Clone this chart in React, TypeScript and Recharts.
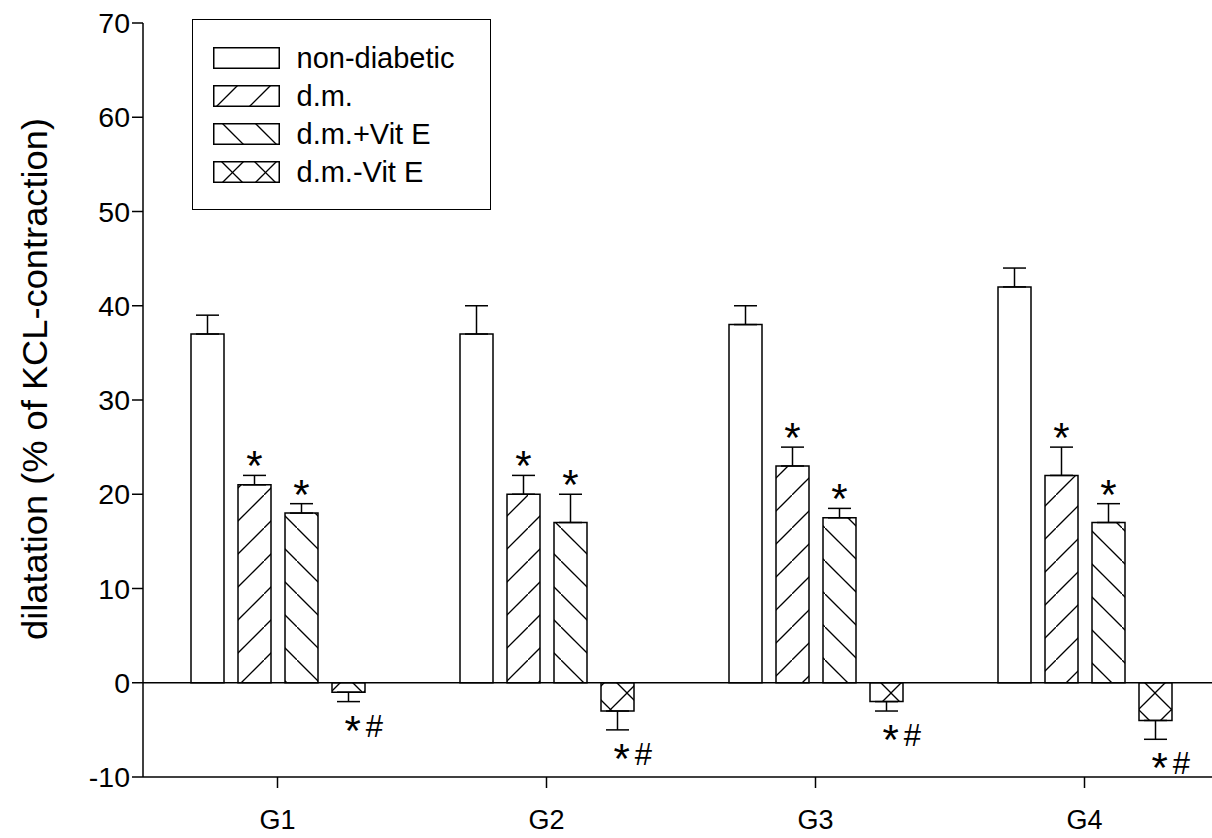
import React from 'react';
import { BarChart, Bar, XAxis, YAxis, ErrorBar, ReferenceLine, Legend, LabelList, Label } from 'recharts';

const FONT = '"Liberation Sans", Arial, Helvetica, sans-serif';

const groups = ['G1', 'G2', 'G3', 'G4'];
const seriesNames = ['non-diabetic', 'd.m.', 'd.m.+Vit E', 'd.m.-Vit E'];

// means
const nonDiabetic = [37, 37, 38, 42];
const dm = [21, 20, 23, 22];
const dmVitE = [18, 17, 17.5, 17];
const dmNoVitE = [-1, -3, -2, -4];

// SEM (drawn one-sided, away from zero)
const nonDiabeticErr = [2, 3, 2, 2];
const dmErr = [1, 2, 2, 3];
const dmVitEErr = [1, 3, 1, 2];
const dmNoVitEErr = [1, 2, 1, 2];

// significance marks
const dmMarks = ['*', '*', '*', '*'];
const dmVitEMarks = ['*', '*', '*', '*'];
const dmNoVitEMarks = ['*#', '*#', '*#', '*#'];

const yTicks = [-10, 0, 10, 20, 30, 40, 50, 60, 70];

const oneSided = (v: number, e: number) => (v >= 0 ? [0, e] : [e, 0]);

const data = groups.map((g, i) => ({
  group: g,
  nd: nonDiabetic[i],
  ndErr: oneSided(nonDiabetic[i], nonDiabeticErr[i]),
  dm: dm[i],
  dmErr: oneSided(dm[i], dmErr[i]),
  dmMark: dmMarks[i],
  dmE: dmVitE[i],
  dmEErr: oneSided(dmVitE[i], dmVitEErr[i]),
  dmEMark: dmVitEMarks[i],
  dmNoE: dmNoVitE[i],
  dmNoEErr: oneSided(dmNoVitE[i], dmNoVitEErr[i]),
  dmNoEMark: dmNoVitEMarks[i],
}));

const Patterns = ({ prefix, dx = [0, 0, 0], dy = [0, 0, 0] }: { prefix: string; dx?: number[]; dy?: number[] }) => (
  <defs>
    <pattern id={`${prefix}-fwd`} patternUnits="userSpaceOnUse" x={dx[0]} y={dy[0]} width={33} height={33}>
      <rect width={33} height={33} fill="#fff" />
      <line x1={-1} y1={34} x2={34} y2={-1} stroke="#000" strokeWidth={1.3} />
    </pattern>
    <pattern id={`${prefix}-back`} patternUnits="userSpaceOnUse" x={dx[1]} y={dy[1]} width={33} height={33}>
      <rect width={33} height={33} fill="#fff" />
      <line x1={-1} y1={-1} x2={34} y2={34} stroke="#000" strokeWidth={1.3} />
    </pattern>
    <pattern id={`${prefix}-cross`} patternUnits="userSpaceOnUse" x={dx[2]} y={dy[2]} width={33} height={33}>
      <rect width={33} height={33} fill="#fff" />
      <line x1={-1} y1={34} x2={34} y2={-1} stroke="#000" strokeWidth={1.3} />
      <line x1={-1} y1={-1} x2={34} y2={34} stroke="#000" strokeWidth={1.3} />
    </pattern>
  </defs>
);

const swatchFill = (prefix: string) => ['#fff', `url(#${prefix}-fwd)`, `url(#${prefix}-back)`, `url(#${prefix}-cross)`];

const LegendBox = () => (
  <div
    style={{
      boxSizing: 'border-box',
      width: 299,
      height: 191,
      border: '1.5px solid #000',
      background: '#fff',
      paddingTop: 26.5,
      paddingLeft: 19.5,
      fontFamily: FONT,
      fontSize: 29,
      color: '#000',
    }}
  >
    {seriesNames.map((name, i) => (
      <div key={name} style={{ display: 'flex', alignItems: 'center', height: 22, marginBottom: 16.3 }}>
        <svg width={67} height={22} style={{ display: 'block', flex: 'none' }}>
          <Patterns prefix={`lg${i}`} dx={[-8, 9, 3]} dy={[0, 0, -5]} />
          <rect x={0.75} y={0.75} width={65.5} height={20.5} fill={swatchFill(`lg${i}`)[i]} stroke="#000" strokeWidth={1.5} />
        </svg>
        <span style={{ marginLeft: 17, lineHeight: '22px', whiteSpace: 'nowrap' }}>{name}</span>
      </div>
    ))}
  </div>
);

// star(s) placed just beyond the end of the error bar
const markRenderer = (values: number[], errs: number[]) => (props: any) => {
  const vb = props.viewBox ?? props;
  const { x, y, width, height } = vb;
  const i = props.index;
  const v = values[i];
  const unit = Math.abs(height) / Math.abs(v);
  const cx = x + width / 2;
  const chars = String(props.value).split('');
  if (v >= 0) {
    const top = Math.min(y, y + height);
    const errEnd = top - errs[i] * unit;
    return (
      <text x={cx} y={errEnd + 5} textAnchor="middle" fontSize={42} fontFamily={FONT} fill="#000">
        {props.value}
      </text>
    );
  }
  const bottom = Math.max(y, y + height);
  const errEnd = bottom + errs[i] * unit;
  return (
    <text x={cx - 4} y={errEnd + 43} fontFamily={FONT} fill="#000">
      {chars.map((ch, k) =>
        ch === '*' ? (
          <tspan key={k} fontSize={42}>*</tspan>
        ) : (
          <tspan key={k} fontSize={31} dx={5} dy={-8}>{ch}</tspan>
        )
      )}
    </text>
  );
};

const axisStroke = { stroke: '#000', strokeWidth: 1.5 };
const barFills = swatchFill('bar');

export default function App() {
  return (
    <div style={{ position: 'absolute', left: 0, top: 0, width: 1212, height: 838, overflow: 'hidden', background: '#fff' }}>
      <BarChart
        width={1232}
        height={838}
        data={data}
        margin={{ top: 23, right: 13, bottom: 0, left: 0 }}
        barSize={33}
        barGap={14}
      >
        <Patterns prefix="bar" />
        <XAxis
          dataKey="group"
          height={61}
          tickSize={11}
          tickMargin={22}
          interval={0}
          axisLine={axisStroke}
          tickLine={axisStroke}
          tick={{ fill: '#000', fontSize: 27, fontFamily: FONT }}
        />
        <YAxis
          type="number"
          domain={[-10, 70]}
          ticks={yTicks}
          interval={0}
          width={143}
          tickSize={11}
          axisLine={axisStroke}
          tickLine={axisStroke}
          tick={{ fill: '#000', fontSize: 28.5, fontFamily: FONT }}
        >
          <Label
            content={() => (
              <text
                x={34}
                y={379}
                transform="rotate(-90 34 379)"
                textAnchor="middle"
                dominantBaseline="central"
                fontSize={35}
                fontFamily={FONT}
                fill="#000"
                textLength={522}
                lengthAdjust="spacingAndGlyphs"
              >
                dilatation (% of KCL-contraction)
              </text>
            )}
          />
        </YAxis>
        <ReferenceLine y={0} stroke="#000" strokeWidth={1.5} />
        <Legend
          layout="vertical"
          align="center"
          verticalAlign="middle"
          wrapperStyle={{ left: 192, top: 19, width: 299, height: 191 }}
          content={() => <LegendBox />}
        />
        <Bar dataKey="nd" name={seriesNames[0]} fill={barFills[0]} stroke="#000" strokeWidth={1.5} isAnimationActive={false}>
          <ErrorBar dataKey="ndErr" width={11.5} stroke="#000" strokeWidth={1.5} />
        </Bar>
        <Bar dataKey="dm" name={seriesNames[1]} fill={barFills[1]} stroke="#000" strokeWidth={1.5} isAnimationActive={false}>
          <ErrorBar dataKey="dmErr" width={11.5} stroke="#000" strokeWidth={1.5} />
          <LabelList dataKey="dmMark" content={markRenderer(dm, dmErr)} />
        </Bar>
        <Bar dataKey="dmE" name={seriesNames[2]} fill={barFills[2]} stroke="#000" strokeWidth={1.5} isAnimationActive={false}>
          <ErrorBar dataKey="dmEErr" width={11.5} stroke="#000" strokeWidth={1.5} />
          <LabelList dataKey="dmEMark" content={markRenderer(dmVitE, dmVitEErr)} />
        </Bar>
        <Bar dataKey="dmNoE" name={seriesNames[3]} fill={barFills[3]} stroke="#000" strokeWidth={1.5} isAnimationActive={false}>
          <ErrorBar dataKey="dmNoEErr" width={11.5} stroke="#000" strokeWidth={1.5} />
          <LabelList dataKey="dmNoEMark" content={markRenderer(dmNoVitE, dmNoVitEErr)} />
        </Bar>
      </BarChart>
    </div>
  );
}
